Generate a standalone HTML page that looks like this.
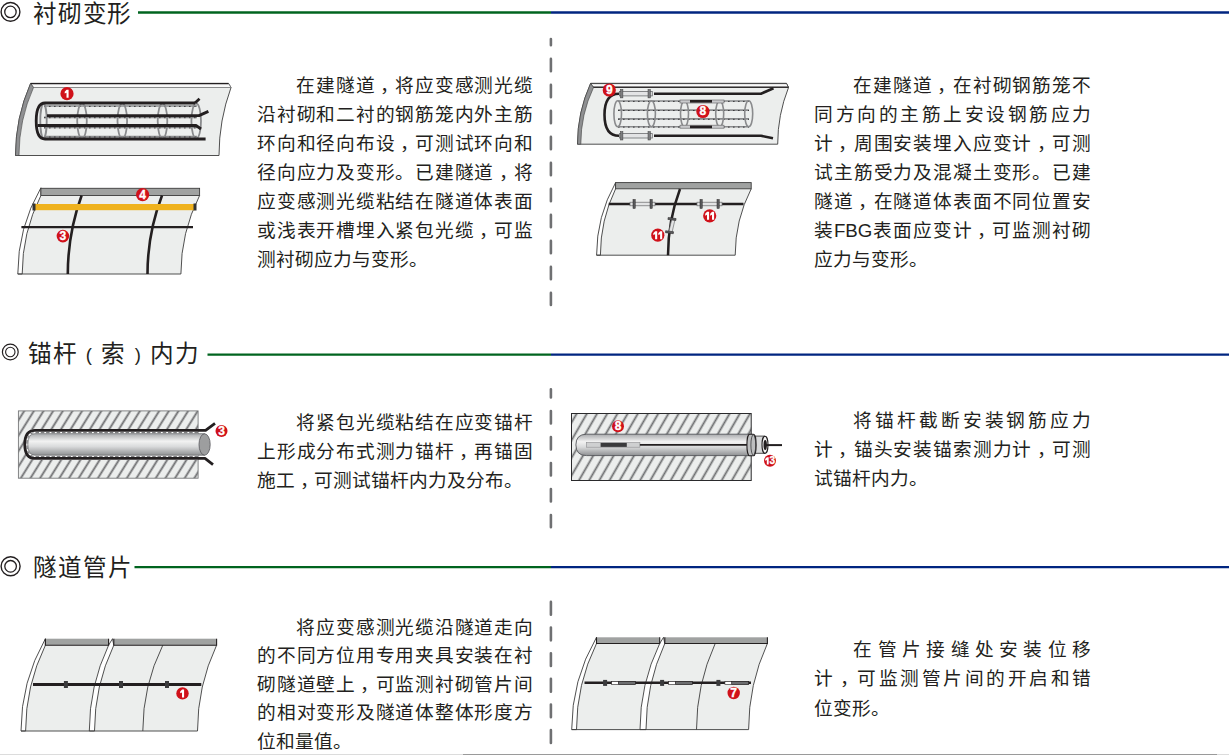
<!DOCTYPE html>
<html lang="zh-CN"><head><meta charset="utf-8">
<style>
html,body{margin:0;padding:0;background:#fff;}
body{width:1229px;height:755px;position:relative;overflow:hidden;font-family:"Liberation Sans",sans-serif;color:#231f20;}
.h{position:absolute;font-size:23.6px;line-height:28px;white-space:nowrap;color:#231f20;font-weight:500;letter-spacing:0.8px;}
.p{position:absolute;font-size:18.7px;font-weight:500;line-height:29.05px;width:276px;}
.p div{box-sizing:border-box;text-align:justify;text-align-last:justify;white-space:nowrap;}
.p div.last{text-align-last:left;}
.p div.ind{padding-left:39.4px;}
svg{position:absolute;left:0;top:0;}
.pa{display:inline-block;width:24.4px;text-align:center;font-size:18.5px;font-weight:normal;vertical-align:top;position:relative;top:1.2px;}
.c{position:relative;left:4.5px;}
.mk text{font-family:"Liberation Sans",sans-serif;font-weight:bold;fill:#fff;text-anchor:middle;}
</style></head><body>
<svg width="1229" height="755" viewBox="0 0 1229 755">
<defs>
<pattern id="hatch" width="8.175" height="20" patternUnits="userSpaceOnUse" patternTransform="translate(30.4,408.83) rotate(32)">
<rect width="8.175" height="20" fill="#eceeed"/>
<line x1="4.0875" y1="0" x2="4.0875" y2="20" stroke="#6d6e70" stroke-width="1.8"/>
</pattern>
<pattern id="hatch2" width="8.83" height="20" patternUnits="userSpaceOnUse" patternTransform="translate(583.2,411.19) rotate(30)">
<rect width="8.83" height="20" fill="#eceeed"/>
<line x1="4.415" y1="0" x2="4.415" y2="20" stroke="#6d6e70" stroke-width="1.8"/>
</pattern>
<linearGradient id="rod" x1="0" y1="0" x2="0" y2="1">
<stop offset="0" stop-color="#a9abad"/>
<stop offset="0.35" stop-color="#f2f2f2"/>
<stop offset="0.6" stop-color="#d9dadb"/>
<stop offset="1" stop-color="#8e9092"/>
</linearGradient>
</defs>
<!-- header lines -->
<g stroke-width="2.3">
<line x1="138" y1="12.5" x2="551" y2="12.5" stroke="#00641f"/>
<line x1="551" y1="12.5" x2="1229" y2="12.5" stroke="#002580"/>
<line x1="207.5" y1="354.6" x2="551" y2="354.6" stroke="#00641f"/>
<line x1="551" y1="354.6" x2="1229" y2="354.6" stroke="#002580"/>
<line x1="134.5" y1="567.1" x2="551" y2="567.1" stroke="#00641f"/>
<line x1="551" y1="567.1" x2="1229" y2="567.1" stroke="#002580"/>
</g>
<!-- bullets -->
<g fill="none" stroke="#231f20">
<circle cx="10.5" cy="11.9" r="9.4" stroke-width="1.4"/>
<circle cx="10.45" cy="11.9" r="5.7" stroke-width="1.3"/>
<circle cx="10.3" cy="352" r="7.9" stroke-width="1.2"/>
<circle cx="10.3" cy="352" r="4.7" stroke-width="1.1"/>
<circle cx="10.6" cy="566.3" r="9.5" stroke-width="1.4"/>
<circle cx="10.6" cy="566.3" r="5.8" stroke-width="1.3"/>
</g>
<!-- dashed separators -->
<g stroke="#6f7072" stroke-width="2.6" stroke-linecap="round">
<line x1="550.9" y1="39" x2="550.9" y2="305" stroke-dasharray="12.4 13.6" stroke-dashoffset="6.1"/>
<line x1="550.9" y1="389.2" x2="550.9" y2="527.2" stroke-dasharray="12.4 13.6" stroke-dashoffset="4.2"/>
<line x1="550.9" y1="601.9" x2="550.9" y2="743.2" stroke-dasharray="12.8 12.85" stroke-dashoffset="0"/>
</g>
<!-- bottom rule -->
<rect x="0" y="754" width="463" height="1" fill="#dcdcdc"/>
<rect x="463" y="754" width="754" height="1" fill="#9a9a9a"/>
<rect x="1217" y="754" width="12" height="1" fill="#dcdcdc"/>
</svg>

<div class="h" style="left:33px;top:0px;">衬砌变形</div>
<div class="h" style="left:28px;top:339.5px;letter-spacing:0.5px;">锚杆<span class="pa">(</span>索<span class="pa">)</span>内力</div>
<div class="h" style="left:32.5px;top:554px;letter-spacing:1.1px;">隧道管片</div>

<div class="p" style="left:257px;top:71px;">
<div class="ind">在建隧道<span class="c">，</span>将应变感测光缆</div>
<div>沿衬砌和二衬的钢筋笼内外主筋</div>
<div>环向和径向布设<span class="c">，</span>可测试环向和</div>
<div>径向应力及变形。已建隧道<span class="c">，</span>将</div>
<div>应变感测光缆粘结在隧道体表面</div>
<div>或浅表开槽埋入紧包光缆<span class="c">，</span>可监</div>
<div class="last">测衬砌应力与变形。</div>
</div>
<div class="p" style="left:814px;top:71px;width:277px;">
<div class="ind">在建隧道<span class="c">，</span>在衬砌钢筋笼不</div>
<div>同方向的主筋上安设钢筋应力</div>
<div>计<span class="c">，</span>周围安装埋入应变计<span class="c">，</span>可测</div>
<div>试主筋受力及混凝土变形。已建</div>
<div>隧道<span class="c">，</span>在隧道体表面不同位置安</div>
<div>装FBG表面应变计<span class="c">，</span>可监测衬砌</div>
<div class="last">应力与变形。</div>
</div>
<div class="p" style="left:257px;top:408px;">
<div class="ind">将紧包光缆粘结在应变锚杆</div>
<div>上形成分布式测力锚杆<span class="c">，</span>再锚固</div>
<div class="last">施工<span class="c">，</span>可测试锚杆内力及分布。</div>
</div>
<div class="p" style="left:814px;top:406px;width:277px;">
<div class="ind">将锚杆截断安装钢筋应力</div>
<div>计<span class="c">，</span>锚头安装锚索测力计<span class="c">，</span>可测</div>
<div class="last">试锚杆内力。</div>
</div>
<div class="p" style="left:257px;top:613.9px;line-height:28.4px;">
<div class="ind">将应变感测光缆沿隧道走向</div>
<div>的不同方位用专用夹具安装在衬</div>
<div>砌隧道壁上<span class="c">，</span>可监测衬砌管片间</div>
<div>的相对变形及隧道体整体形度方</div>
<div class="last">位和量值。</div>
</div>
<div class="p" style="left:814px;top:634.5px;line-height:29.5px;width:277px;">
<div class="ind">在管片接缝处安装位移</div>
<div>计<span class="c">，</span>可监测管片间的开启和错</div>
<div class="last">位变形。</div>
</div>

<svg id="diag" width="1229" height="755" viewBox="0 0 1229 755">
<!-- D1: lining cage -->
<g>
<path d="M30.6,83.4 L228.5,83.4 L231,87.5 A198.7,198.7 0 0 0 219,155.5 L15.5,155.5 A179.7,179.7 0 0 1 30.6,83.4 Z" fill="#eceeed" stroke="#3c3c3c" stroke-width="0.9"/>
<path d="M30.6,83.4 L228.5,83.4 L231,87.5 L33.5,87.5 Z" fill="#f9f9f9" stroke="#6d6e70" stroke-width="0.8"/>
<line x1="30.6" y1="83.6" x2="228.5" y2="83.6" stroke="#231f20" stroke-width="1.4"/>
<path d="M30.6,83.4 A179.7,179.7 0 0 0 15.5,155.5 L19,155.5 A166.7,166.7 0 0 1 33.5,87.5 Z" fill="#8f9092" stroke="#3c3c3c" stroke-width="0.6"/>
<g fill="none" stroke="#8a8b8d" stroke-width="1.7">
<line x1="44" y1="106" x2="197" y2="106"/>
<line x1="44" y1="117.3" x2="197" y2="117.3"/>
<line x1="44" y1="127.5" x2="197" y2="127.5"/>
<line x1="44" y1="136.6" x2="197" y2="136.6"/>
</g>
<g fill="none" stroke="#3a3a3c" stroke-width="1" stroke-dasharray="1.6 3.4">
<line x1="44" y1="106.4" x2="197" y2="106.4"/>
<line x1="44" y1="117.7" x2="197" y2="117.7"/>
<line x1="44" y1="127.9" x2="197" y2="127.9"/>
<line x1="44" y1="137" x2="197" y2="137"/>
</g>
<g fill="none" stroke="#8a8b8d" stroke-width="1.8">
<ellipse cx="43.5" cy="121" rx="3.2" ry="17"/>
<ellipse cx="82" cy="121" rx="4.8" ry="17.5"/>
<ellipse cx="122.3" cy="121" rx="4.8" ry="17.5"/>
<ellipse cx="162.5" cy="121" rx="4.8" ry="17.5"/>
<ellipse cx="196.2" cy="121" rx="4.8" ry="17.5"/>
</g>
<g fill="none" stroke="#231f20" stroke-width="2.8" stroke-linejoin="round">
<path d="M195,103 L45,103 Q36.2,103 36.2,121 Q36.2,139 45,139 L205.6,139"/>
<path d="M195,103 L199.5,98.8"/>
<path d="M47,115.6 L199,115.6 L208.4,111.4"/>
<path d="M37.5,125.5 L196,125.5 L201,129"/>
</g>
</g>
<g class="mk"><circle cx="67" cy="93.7" r="6.6" fill="#d0111a"/><path d="M66.6,89.7 L68.6,89.7 L68.6,97.7 L66.5,97.7 L66.5,92.7 L64.7,93.6 L64.7,91.7 Z" fill="#fff"/></g>

<!-- D2: surface strips -->
<g>
<path d="M40.9,195.5 L199.6,195.5 A174.1,174.1 0 0 0 180.9,274 L17.8,274 A172.4,172.4 0 0 1 40.9,187.8 Z" fill="#eceeed" stroke="none"/>
<path d="M40.9,187.8 A172.4,172.4 0 0 0 17.8,274 L22.2,274 A174.1,174.1 0 0 1 40.9,195.5 Z" fill="#ffffff" stroke="#3c3c3c" stroke-width="0.9"/>
<path d="M199.6,195.5 A174.1,174.1 0 0 0 180.9,274 L17.8,274" fill="none" stroke="#3c3c3c" stroke-width="0.9"/>
<rect x="40.9" y="188.3" width="158.7" height="7.2" fill="#a0a2a1" stroke="#3c3c3c" stroke-width="0.9"/>
<g fill="none" stroke="#231f20" stroke-width="2.6">
<path d="M81.6,195.5 A230.2,230.2 0 0 0 67.8,274"/>
<path d="M162,195.5 A219.7,219.7 0 0 0 147.5,274"/>
</g>
<rect x="34.4" y="204" width="160.3" height="6.2" fill="#efb21e"/>
<rect x="32.5" y="203.5" width="3" height="7" fill="#333"/>
<rect x="193.5" y="203.5" width="3" height="7" fill="#333"/>
<line x1="21.4" y1="227.2" x2="193" y2="227.2" stroke="#231f20" stroke-width="2.2"/>
</g>
<g class="mk"><circle cx="142.6" cy="194.6" r="6.6" fill="#d0111a"/><text x="142.6" y="198.5" font-size="12" stroke="#fff" stroke-width="0.35">4</text></g>
<g class="mk"><circle cx="62.9" cy="236.1" r="6.3" fill="#d0111a"/><text x="62.9" y="240" font-size="12" stroke="#fff" stroke-width="0.35">3</text></g>
<!-- D3: cage with rebar meters -->
<g>
<path d="M590.6,83.4 L786.5,83.4 L788.5,87.5 A154.2,154.2 0 0 0 777.7,144.2 L577.5,144.2 A147.6,147.6 0 0 1 590.6,83.4 Z" fill="#eceeed" stroke="#3c3c3c" stroke-width="0.9"/>
<path d="M590.6,83.4 L786.5,83.4 L788.5,87.5 L593.5,87.5 Z" fill="#f9f9f9" stroke="#3c3c3c" stroke-width="0.8"/>
<line x1="593" y1="87.2" x2="788.5" y2="87.2" stroke="#231f20" stroke-width="1.2"/>
<line x1="590.6" y1="83.6" x2="786.5" y2="83.6" stroke="#4a4a4c" stroke-width="1"/>
<path d="M590.6,83.4 A147.6,147.6 0 0 0 577.5,144.2 L580.8,144.2 A132.9,132.9 0 0 1 593.5,87.5 Z" fill="#8f9092" stroke="#3c3c3c" stroke-width="0.6"/>
<g fill="none" stroke="#8a8b8d" stroke-width="1.6">
<line x1="618" y1="101" x2="749" y2="101"/>
<line x1="618" y1="110.1" x2="749" y2="110.1"/>
<line x1="618" y1="118.9" x2="749" y2="118.9"/>
<line x1="618" y1="126.7" x2="749" y2="126.7"/>
</g>
<g fill="none" stroke="#3a3a3c" stroke-width="1" stroke-dasharray="1.6 3.4">
<line x1="618" y1="101.4" x2="749" y2="101.4"/>
<line x1="618" y1="110.5" x2="749" y2="110.5"/>
<line x1="618" y1="119.3" x2="749" y2="119.3"/>
<line x1="618" y1="127.1" x2="749" y2="127.1"/>
</g>
<g fill="none" stroke="#8a8b8d" stroke-width="1.6">
<ellipse cx="617.7" cy="113.8" rx="3.8" ry="13"/>
<ellipse cx="651.4" cy="113.8" rx="4" ry="13"/>
<ellipse cx="684.5" cy="113.8" rx="4" ry="13"/>
<ellipse cx="719.7" cy="113.8" rx="4" ry="13"/>
<ellipse cx="748.7" cy="113.8" rx="4" ry="13"/>
</g>
<g fill="#c9cacc" stroke="#6d6e70" stroke-width="0.7">
<rect x="680" y="100" width="44" height="3"/>
<rect x="680" y="125.2" width="44" height="3"/>
</g>
<rect x="690" y="100" width="22" height="2.6" fill="#231f20"/>
<rect x="690" y="125.6" width="22" height="2.6" fill="#231f20"/>
<g fill="none" stroke="#231f20" stroke-width="2.6" stroke-linejoin="round">
<path d="M654,93.7 L761,93.7 L773.5,88.3"/>
<path d="M654,135.8 L761,135.8 L773,138.2"/>
<path d="M619,93.7 Q604.5,93.7 604.5,114.7 Q604.5,135.8 619,135.8"/>
</g>
<g fill="#e3e4e5" stroke="#6d6e70" stroke-width="0.8">
<rect x="619.6" y="91.5" width="32.7" height="4.4"/>
<rect x="619.6" y="133.6" width="32.7" height="4.4"/>
</g>
<g fill="#7c7d7f" stroke="#3c3c3c" stroke-width="0.5">
<rect x="620.5" y="89.5" width="2.4" height="8.4"/>
<rect x="648" y="89.5" width="2.4" height="8.4"/>
<rect x="620.5" y="131.6" width="2.4" height="8.4"/>
<rect x="648" y="131.6" width="2.4" height="8.4"/>
</g>
</g>
<g class="mk"><circle cx="609.3" cy="90" r="6.6" fill="#d0111a"/><text x="609.3" y="93.9" font-size="12" stroke="#fff" stroke-width="0.35">9</text></g>
<g class="mk"><circle cx="702.9" cy="111.5" r="6.6" fill="#d0111a"/><text x="702.9" y="115.4" font-size="12" stroke="#fff" stroke-width="0.35">8</text></g>

<!-- D4: surface strain gauges -->
<g>
<path d="M615.6,188.8 L751.2,188.8 A145.8,145.8 0 0 0 735.2,255.2 L596.6,255.2 A148.2,148.2 0 0 1 615.6,182.6 Z" fill="#eceeed" stroke="none"/>
<path d="M615.6,182.6 A148.2,148.2 0 0 0 596.6,255.2 L600.4,255.2 A152.6,152.6 0 0 1 615.6,188.8 Z" fill="#ffffff" stroke="#3c3c3c" stroke-width="0.9"/>
<path d="M751.2,188.8 A145.8,145.8 0 0 0 735.2,255.2 L596.6,255.2" fill="none" stroke="#3c3c3c" stroke-width="0.9"/>
<rect x="615.6" y="182.6" width="135.6" height="6.2" fill="#a0a2a1" stroke="#3c3c3c" stroke-width="0.9"/>
<line x1="608.7" y1="204" x2="743.5" y2="204" stroke="#231f20" stroke-width="2.5"/>
<path d="M680,189 A188.6,188.6 0 0 0 668,255.2" fill="none" stroke="#231f20" stroke-width="2.5"/>
<g fill="#e3e4e5" stroke="#6d6e70" stroke-width="0.7">
<rect x="630" y="202.2" width="25" height="3.6"/>
<rect x="697" y="202.2" width="25" height="3.6"/>
<path d="M671.8,219 L675,219.6 L672,232.5 L668.8,232 Z"/>
</g>
<g fill="#5b5c5e" stroke="#231f20" stroke-width="0.5">
<rect x="633" y="199.6" width="2.2" height="8.8"/>
<rect x="650" y="199.6" width="2.2" height="8.8"/>
<rect x="700" y="199.6" width="2.2" height="8.8"/>
<rect x="717" y="199.6" width="2.2" height="8.8"/>
<rect x="668" y="218" width="8" height="2" transform="rotate(8 672 219)"/>
<rect x="665.5" y="231.2" width="8" height="2" transform="rotate(8 669.5 232)"/>
</g>
</g>
<g class="mk"><circle cx="709.7" cy="215.8" r="6.6" fill="#d0111a"/><path d="M707.1,211.8 L709.1,211.8 L709.1,219.8 L707,219.8 L707,214.8 L705.2,215.7 L705.2,213.8 Z M712.1,211.8 L714.1,211.8 L714.1,219.8 L712,219.8 L712,214.8 L710.2,215.7 L710.2,213.8 Z" fill="#fff"/></g>
<g class="mk"><circle cx="657.8" cy="235.2" r="6.6" fill="#d0111a"/><path d="M655.2,231.2 L657.2,231.2 L657.2,239.2 L655.1,239.2 L655.1,234.2 L653.3,235.1 L653.3,233.2 Z M660.2,231.2 L662.2,231.2 L662.2,239.2 L660.1,239.2 L660.1,234.2 L658.3,235.1 L658.3,233.2 Z" fill="#fff"/></g>
<!-- D5: anchor with fiber -->
<g>
<rect x="18.4" y="410.9" width="179.7" height="67.3" fill="url(#hatch)" stroke="#77787a" stroke-width="0.9"/>
<path d="M198.1,429 L34,429 Q24,429 24,444.4 Q24,460 34,460 L198.1,460 Z" fill="#ffffff"/>
<g fill="none" stroke="#7d7e80" stroke-width="1.1" stroke-dasharray="3.5 1.8">
<path d="M198,432.6 L35,432.6 Q27,432.6 27,444.4 Q27,456.6 35,456.6 L198,456.6"/>
</g>
<path d="M204.6,433.7 L35,433.7 Q27.8,433.7 27.8,444.4 Q27.8,455.2 35,455.2 L204.6,455.2 Z" fill="url(#rod)" stroke="#6d6e70" stroke-width="0.8"/>
<ellipse cx="204.6" cy="444.5" rx="5.6" ry="10.7" fill="#9d9e9f" stroke="#55565a" stroke-width="0.8"/>
<g fill="none" stroke="#231f20" stroke-width="2.8" stroke-linejoin="round">
<path d="M215,423.4 L205.6,430.4 L35,430.4 Q24.8,430.4 24.8,444.4 Q24.8,458.4 35,458.4 L205,458.4 L213,464.6"/>
</g>
</g>
<g class="mk"><circle cx="221.5" cy="430.9" r="6" fill="#d0111a"/><text x="221.5" y="434.6" font-size="12" stroke="#fff" stroke-width="0.35">3</text></g>

<!-- D6: anchor with rebar meter + load cell -->
<g>
<rect x="571.5" y="413.5" width="179.7" height="67" fill="url(#hatch2)" stroke="#2a2a2c" stroke-width="1"/>
<path d="M752,434.2 L586.6,434.2 Q575.9,434.2 575.9,444.9 Q575.9,455.6 586.6,455.6 L752,455.6 Z" fill="url(#rod)" stroke="#55565a" stroke-width="0.9"/>
<rect x="586.5" y="442.6" width="53.4" height="4.6" fill="#cfd0d1" stroke="#8d8e90" stroke-width="0.6"/>
<rect x="600.6" y="442.9" width="26.2" height="4" fill="#3a3a3c"/>
<line x1="639.9" y1="444.9" x2="752" y2="444.9" stroke="#231f20" stroke-width="1.8"/>
<path d="M753.5,436.1 L765,436.1 L765,453.3 L753.5,453.3 Z" fill="#d8d9da" stroke="#3a3a3c" stroke-width="0.9"/>
<path d="M749.5,434.2 L753.5,434.2 A2.6 10.75 0 0 1 753.5 455.7 L749.5,455.7 A2.6 10.75 0 0 1 749.5 434.2 Z" fill="#bdbebf" stroke="#231f20" stroke-width="1.1"/>
<ellipse cx="753.3" cy="444.95" rx="2.4" ry="10.2" fill="none" stroke="#3a3a3c" stroke-width="0.8"/>
<ellipse cx="765" cy="444.8" rx="3" ry="8.6" fill="#f4f4f4" stroke="#231f20" stroke-width="1.1"/>
<ellipse cx="765.2" cy="445" rx="1.7" ry="5" fill="#231f20"/>
<line x1="765" y1="445.1" x2="782" y2="445.1" stroke="#231f20" stroke-width="2"/>
</g>
<g class="mk"><circle cx="618" cy="426.2" r="6" fill="#d0111a"/><text x="618" y="429.9" font-size="12" stroke="#fff" stroke-width="0.35">8</text></g>
<g class="mk"><circle cx="770" cy="460.8" r="6" fill="#d0111a"/><path d="M766.9,457.2 L768.7,457.2 L768.7,464.4 L766.81,464.4 L766.81,459.9 L765.19,460.71 L765.19,459 Z" fill="#fff"/><text x="772.30" y="464.40" font-size="10" stroke="#fff" stroke-width="0.3">3</text></g>

<!-- D7: segments with fiber -->
<g>
<path d="M45.4,645.2 L108.6,645.2 A200.4,200.4 0 0 0 89.3,731 L21,731 A186.8,186.8 0 0 1 45.4,638.7 Z" fill="#eceeed"/>
<path d="M113.8,645.2 L216.6,645.2 A202.3,202.3 0 0 0 197.5,731 L94.5,731 A200.4,200.4 0 0 1 113.8,645.2 Z" fill="#eceeed"/>
<path d="M45.4,638.7 A186.8,186.8 0 0 0 21,731 L25.6,731 A195.8,195.8 0 0 1 45.4,645.2 Z" fill="#fff" stroke="#3c3c3c" stroke-width="0.9"/>
<path d="M112.5,638.7 L108.6,645.2 A200.4,200.4 0 0 0 89.3,731 L94.5,731 A200.4,200.4 0 0 1 113.8,645.2 Z" fill="#fff" stroke="#3c3c3c" stroke-width="0.9"/>
<g fill="none" stroke="#3c3c3c" stroke-width="0.9">
<path d="M162.8,645.2 A194.0,194.0 0 0 0 142.8,731"/>
<path d="M216.6,645.2 A202.3,202.3 0 0 0 197.5,731"/>
<line x1="21" y1="731" x2="197.5" y2="731"/>
</g>
<rect x="45.4" y="638.7" width="63.2" height="6.5" fill="#a0a2a1"/>
<rect x="113.8" y="638.7" width="102.8" height="6.5" fill="#a0a2a1"/>
<g stroke="#231f20" fill="none">
<path d="M45.4,638.7 V645.2 H108.6 V638.7" stroke-width="1.1"/>
<path d="M113.8,638.7 V645.2 H216.6 V638.7" stroke-width="1.1"/>
</g>
<line x1="33" y1="684.5" x2="201.3" y2="684.5" stroke="#231f20" stroke-width="2.8"/>
<g fill="#3a3a3c">
<rect x="63.9" y="681" width="4" height="7"/>
<rect x="119" y="681" width="4" height="7"/>
<rect x="165" y="681" width="4" height="7"/>
</g>
</g>
<g class="mk"><circle cx="182.5" cy="693.4" r="6.2" fill="#d0111a"/><path d="M182.1,689.4 L184.1,689.4 L184.1,697.4 L182,697.4 L182,692.4 L180.2,693.3 L180.2,691.4 Z" fill="#fff"/></g>

<!-- D8: segments with displacement meters -->
<g>
<path d="M596.5,643.5 L659.7,643.5 A198.0,198.0 0 0 0 640,729.6 L571.7,729.6 A184.2,184.2 0 0 1 596.5,637.3 Z" fill="#eceeed"/>
<path d="M664.8,643.5 L767.4,643.5 A206.6,206.6 0 0 0 748.6,729.6 L646,729.6 A206.6,206.6 0 0 1 664.8,643.5 Z" fill="#eceeed"/>
<path d="M596.5,637.3 A184.2,184.2 0 0 0 571.7,729.6 L576.5,729.6 A195.3,195.3 0 0 1 596.5,643.5 Z" fill="#fff" stroke="#3c3c3c" stroke-width="0.9"/>
<path d="M663.5,637.3 L659.7,643.5 A198.0,198.0 0 0 0 640,729.6 L646,729.6 A206.6,206.6 0 0 1 664.8,643.5 Z" fill="#fff" stroke="#3c3c3c" stroke-width="0.9"/>
<g fill="none" stroke="#3c3c3c" stroke-width="0.9">
<path d="M715.2,643.5 A207.6,207.6 0 0 0 696.5,729.6"/>
<path d="M767.4,643.5 A206.6,206.6 0 0 0 748.6,729.6"/>
<line x1="571.7" y1="729.6" x2="748.6" y2="729.6"/>
</g>
<rect x="596.5" y="637.3" width="63.2" height="6.2" fill="#a0a2a1"/>
<rect x="664.8" y="637.3" width="102.6" height="6.2" fill="#a0a2a1"/>
<g stroke="#231f20" fill="none">
<path d="M596.5,637.3 V643.5 H659.7 V637.3" stroke-width="1.1"/>
<path d="M664.8,637.3 V643.5 H767.4 V637.3" stroke-width="1.1"/>
</g>
<line x1="584.5" y1="682.8" x2="751" y2="682.8" stroke="#231f20" stroke-width="2.6"/>
<g fill="#6d6e70" stroke="#231f20" stroke-width="0.7">
<rect x="618.4" y="681.4" width="17" height="3.2"/>
<rect x="675.4" y="681.4" width="17" height="3.2"/>
<rect x="731.7" y="681.4" width="17" height="3.2"/>
</g>
<g fill="#3a3a3c">
<rect x="603.1" y="679.9" width="4" height="6"/>
<rect x="660.1" y="679.9" width="4" height="6"/>
<rect x="716.4" y="679.9" width="4" height="6"/>
</g>
<g fill="#fff" stroke="#231f20" stroke-width="0.6">
<rect x="611.6" y="681.6" width="6.8" height="2.8"/>
<rect x="668.6" y="681.6" width="6.8" height="2.8"/>
<rect x="724.9" y="681.6" width="6.8" height="2.8"/>
</g>
</g>
<g class="mk"><circle cx="733.7" cy="693" r="6.2" fill="#d0111a"/><text x="733.7" y="696.8" font-size="12" stroke="#fff" stroke-width="0.35">7</text></g>

</svg>
</body></html>
